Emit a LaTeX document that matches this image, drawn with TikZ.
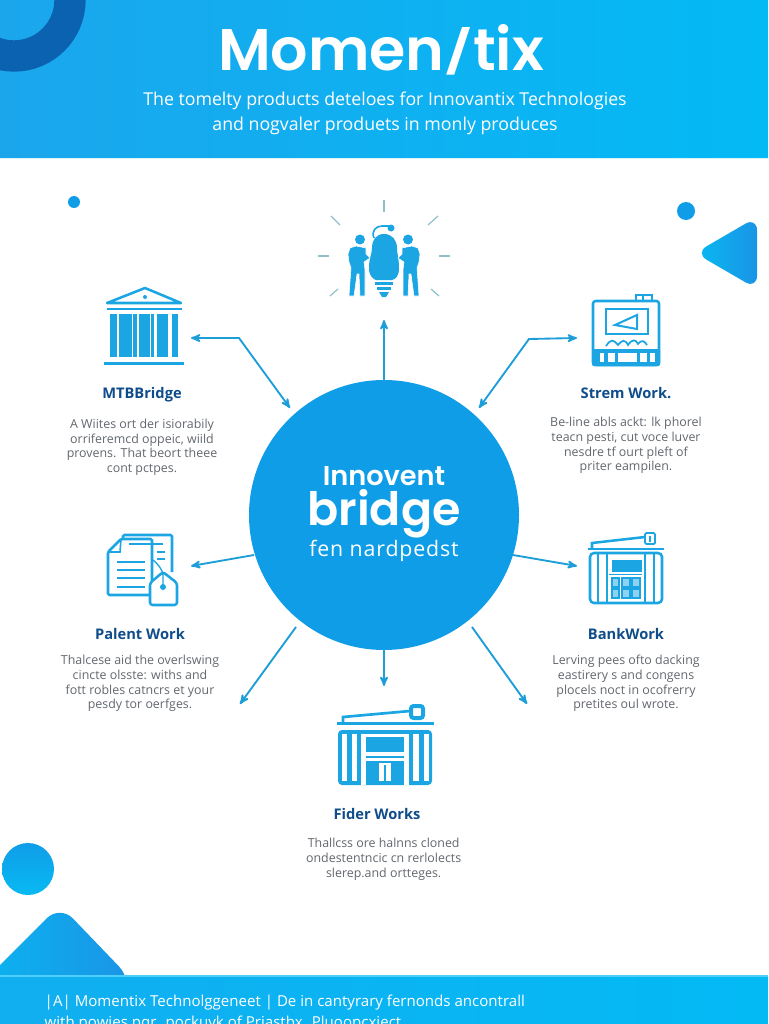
\documentclass[tikz,border=0pt]{standalone}
\usepackage{fontspec}
\setmainfont{Open Sans}
\newfontfamily\headfont{Poppins}[BoldFont={Poppins SemiBold}]
\usetikzlibrary{arrows,positioning}
\definecolor{iconblue}{HTML}{1BA5E3}
\definecolor{hubblue}{HTML}{0F9DE8}
\definecolor{linkblue}{HTML}{1D9ED8}
\definecolor{navy}{HTML}{0F4C8A}
\definecolor{ringblue}{HTML}{0A62B0}
\definecolor{bodygray}{HTML}{62676E}
\definecolor{raygray}{HTML}{8FC0CC}
\definecolor{bandleft}{HTML}{1BA6EC}
\definecolor{bandright}{HTML}{03BAF5}
\definecolor{decoleft}{HTML}{08BAF2}
\definecolor{decoright}{HTML}{1A94E6}
\tikzset{link/.style={draw=linkblue,line width=1.4pt,-stealth'}}
\tikzset{iconline/.style={draw=iconblue,line width=1.9pt}}
\tikzset{holefill/.style={fill=white}}
\tikzset{heading/.style={text=navy,font=\fontsize{11}{13}\selectfont\bfseries}}
\tikzset{blurb/.style={text=bodygray,align=center,font=\fontsize{9.3}{11}\selectfont}}
\tikzset{deco/.style={left color=decoleft,right color=decoright}}

\begin{document}
\begin{tikzpicture}[x=0.75pt,y=-0.75pt]
  \useasboundingbox (0,0) rectangle (768,1024);
  \begin{scope}
  \clip (0,0) rectangle (768,1024);

  % bands
  \shade[left color=bandleft,right color=bandright] (0,0) rectangle (768,158);
  \begin{scope}
    \clip (0,0) rectangle (768,158);
    \draw[ringblue,line width=23.5pt] (14,0) circle (56);
  \end{scope}
  \draw[cyan!15!white,line width=0.8pt] (0,158.5)--(768,158.5);
  \shade[deco,rounded corners=14pt] (-50,1015)--(60,905)--(132,980)--(125,1000)--cycle;
  \shade[left color=bandleft!60!bandright,right color=bandright] (0,976) rectangle (768,1024);
  \draw[bandright!70!white,line width=0.8pt] (0,976)--(768,976);

  % round marks
  \fill[hubblue] (74,202) circle (6);
  \fill[hubblue] (686,211) circle (9);
  \shade[top color=hubblue,bottom color=decoleft] (28,869) circle (26);
  \shade[deco,rounded corners=10pt] (695,253)--(757,217)--(757,289)--cycle;

  \node[white,font=\fontsize{44}{48}\selectfont\headfont\bfseries] (title) at (381,50)
    {Momen\raisebox{0.06em}{\scalebox{1}[0.72]{/}}tix};
  \node[white,align=center,font=\fontsize{13.3}{18.6}\selectfont] (subtitle) at (385,113)
    {The tomelty products deteloes for Innovantix Technologies\\and nogvaler produets in monly produces};
  \node[white,anchor=west,font=\fontsize{11.3}{14}\selectfont] (footerone) at (40,1003)
    {|A| Momentix Technolggeneet | De in cantyrary fernonds ancontrall};
  \node[white,anchor=west,font=\fontsize{11.3}{14}\selectfont] (footertwo) at (40,1024)
    {with powjes pqr. pockuyk of Priastbx. Pluoopcxject};

  % middle
  \node[circle,fill=hubblue,minimum size=202.5pt,inner sep=0pt] (hub) at (384,515) {};
  \node[white,inner sep=0pt,font=\fontsize{20.4}{22}\selectfont\headfont\bfseries] (hubone) at (384,476) {Innovent};
  \node[white,inner sep=0pt,font=\fontsize{34.5}{36}\selectfont\headfont\bfseries] (hubtwo) at (384,514) {bridge};
  \node[white,inner sep=0pt,font=\fontsize{16}{18}\selectfont\addfontfeature{LetterSpace=4}] (hubthree) at (384,551) {fen nardpedst};

  % ends of the links
  \coordinate (ideatip) at (384,320);
  \coordinate (bankend) at (191,338);
  \coordinate (bankbend) at (239,338);
  \coordinate (bankhub) at (290,408);
  \coordinate (streamend) at (577,338);
  \coordinate (streambend) at (529,339);
  \coordinate (streamhub) at (479,408);
  \coordinate (patentend) at (191,566);
  \coordinate (patenthub) at (254,555);
  \coordinate (workend) at (577,566);
  \coordinate (workhub) at (513,555);
  \coordinate (lowleft) at (240,704);
  \coordinate (lowlefthub) at (296,627);
  \coordinate (lowright) at (527,704);
  \coordinate (lowrighthub) at (472,627);
  \coordinate (fiderend) at (384,686);

  \draw[link] (hub.north)--(ideatip);
  \draw[link] (hub.south)--(fiderend);
  \draw[link,stealth'-stealth'] (bankend)--(bankbend)--(bankhub);
  \draw[link,stealth'-stealth'] (streamend)--(streambend)--(streamhub);
  \draw[link] (patenthub)--(patentend);
  \draw[link] (workhub)--(workend);
  \draw[link] (lowlefthub)--(lowleft);
  \draw[link] (lowrighthub)--(lowright);

  % idea icon
  \foreach \xa/\ya/\xb/\yb in {384/200/384/212, 331/216/340/225, 438/216/428/225, 318/256/329/256,
                               439/256/450/256, 330/296/338/289, 439/296/431/289}{
    \draw[raygray,line width=0.9pt] (\xa,\ya)--(\xb,\yb);
  };
  \fill[iconblue] (384,234) .. controls (376,234) and (372,240) .. (372,248)
    .. controls (372,254) and (369,258) .. (369,268) .. controls (369,276) and (373,279) .. (376,280)
    -- (392,280) .. controls (396,279) and (399,276) .. (399,268)
    .. controls (399,258) and (397,254) .. (397,248) .. controls (397,240) and (392,234) .. (384,234)--cycle;
  \draw[iconline,line width=1.2pt] (374,238) .. controls (371,231) and (376,226) .. (382,226)--(389,226);
  \fill[iconblue] (391,228) circle (3.5);
  \fill[iconblue] (375,282) rectangle (393,285);
  \fill[iconblue] (377,287) rectangle (391,290);
  \fill[iconblue] (379,292) -- (389,292) -- (386,297) -- (382,297) -- cycle;
  \foreach \sx in {-1,1}{
    \begin{scope}[shift={(384,0)},xscale=\sx]
      \fill[iconblue] (24,239.5) circle (5);
      \filldraw[fill=iconblue,draw=white,line width=0.4pt] (18,248) -- (28,246) -- (34,248) -- (36,254)
        -- (35,262) -- (33,268) -- (35,296) -- (30,296) -- (27,274) -- (25,274) -- (24,296)
        -- (19,296) -- (19,270) -- (20,262) -- (14,258) -- (18,254) -- cycle;
    \end{scope}
  };

  % temple icon
  \draw[iconline,line join=round] (107,303)--(145,288)--(181,303)--cycle;
  \fill[iconblue] (145,297) circle (2);
  \draw[iconline] (107,309)--(182,309);
  \foreach \xa/\xb in {110/117,119/132,133/137,139/150,151/154,157/168,172/178}{
    \fill[iconblue] (\xa,314) rectangle (\xb,357);
  };
  \draw[iconline,line width=2.5pt] (104,363.5)--(184,363.5);

  % stream icon
  \draw[iconline,rounded corners=2pt] (593,301) rectangle (659,365);
  \draw[iconline] (636,300)--(636,295)--(652,295)--(652,300);
  \fill[iconblue] (642,295) rectangle (644,300);
  \draw[iconline] (606,309) rectangle (648,334);
  \draw[iconline,line width=1.5pt] (637,315)--(615,325)--(637,329)--cycle;
  \draw[iconline,line width=1.3pt] (606,346) .. controls (611,339) and (613,339) .. (618,345)
    .. controls (622,340) and (625,339) .. (628,345) .. controls (632,339) and (636,339) .. (638,344)
    .. controls (641,340) and (644,340) .. (647,345);
  \fill[iconblue,rounded corners=1pt] (592,349) rectangle (660,366);
  \foreach \xa/\xb in {600/604,608/615,618/637,640/647,650/655}{
    \fill[holefill] (\xa,353) rectangle (\xb,362);
  };

  % patent icon
  \draw[iconline,rounded corners=1pt] (123,551)--(123,535)--(172,535)--(172,572);
  \draw[iconline,fill=white,rounded corners=1pt] (108,552)--(121,539)--(152,539)--(152,595)--(108,595)--cycle;
  \draw[iconline,line width=1.2pt] (108,552)--(120,552)--(121,539);
  \draw[iconline] (129,544)--(163,544);
  \draw[iconline,line width=1.2pt] (157,552)--(165,552);
  \draw[iconline,line width=1.2pt] (157,559)--(165,559);
  \foreach \y in {562,570,578,587}{
    \draw[iconline] (117,\y)--(145,\y);
  };
  \draw[iconline,fill=white,rounded corners=2pt] (163,572)--(177,583)--(177,605)--(150,605)--(150,583)--cycle;
  \fill[iconblue] (163,587) circle (3);
  \draw[iconline,line width=1pt] (163,587)--(163,575) .. controls (163,570) and (157,563) .. (153,560);

  % calculator icon
  \draw[iconline] (592,548)--(592,543)--(645,537);
  \draw[iconline,rounded corners=1pt,line width=1.4pt] (645,533) rectangle (655,544);
  \fill[iconblue] (649,536) rectangle (651,542);
  \draw[iconline] (588,549)--(664,549);
  \draw[iconline,rounded corners=3pt] (590,553) rectangle (662,603);
  \foreach \x in {598,607,645,654}{
    \draw[iconline,line width=1.5pt] (\x,553)--(\x,603);
  };
  \fill[iconblue] (612,560) rectangle (642,572);
  \draw[iconline,line width=0.7pt] (609,574.5)--(642,574.5);
  \foreach \xa/\xb in {612/619,622/630,632/640}{
    \foreach \ya/\yb in {578/587,589/598}{
      \draw[iconline,line width=1pt,fill=iconblue!50!white] (\xa,\ya) rectangle (\xb,\yb);
    };
  };

  % works icon
  \draw[iconline,line width=2pt] (343,722)--(343,717)--(410,711);
  \draw[iconline,line width=3pt,rounded corners=2pt,fill=white] (411,706) rectangle (423,718);
  \draw[iconline,line width=2.2pt] (337,723.5)--(434,723.5);
  \fill[iconblue,rounded corners=3pt] (338,730) rectangle (432,785);
  \foreach \xa/\xb in {342/347,352/357,413/419,424/429}{
    \fill[holefill] (\xa,734) rectangle (\xb,781);
  };
  \fill[holefill] (361,734) rectangle (409,785);
  \fill[iconblue] (366,737) rectangle (404,752);
  \fill[iconblue] (366,755.5) rectangle (404,757.5);
  \fill[iconblue] (366,761) rectangle (404,785);
  \fill[holefill] (379,763) rectangle (391,781);
  \fill[iconblue] (384,765) rectangle (386,781);

  % labels
  \node[heading] (templename) at (142,395) {MTBBridge};
  \node[blurb,below=5.5pt of templename] (templetext)
    {A Wiites ort der isiorabily\\orriferemcd oppeic, wiild\\provens. That beort theee\\cont pctpes.};
  \node[heading] (streamname) at (626,393) {Strem Work.};
  \node[blurb,below=7pt of streamname] (streamtext)
    {Be-line abls ackt: lk phorel\\teacn pesti, cut voce luver\\nesdre tf ourt pleft of\\priter eampilen.};
  \node[heading] (patentname) at (140,634) {Palent Work};
  \node[blurb,below=4.75pt of patentname] (patenttext)
    {Thalcese aid the overlswing\\cincte olsste: withs and\\fott robles catncrs et your\\pesdy tor oerfges.};
  \node[heading] (calcname) at (626,634) {BankWork};
  \node[blurb,below=4.75pt of calcname] (calctext)
    {Lerving pees ofto dacking\\eastirery s and congens\\plocels noct in ocofrerry\\pretites oul wrote.};
  \node[heading] (worksname) at (377,814) {Fider Works};
  \node[blurb,below=7pt of worksname,xshift=5pt] (workstext)
    {Thallcss ore halnns cloned\\ondestentncic cn rerlolects\\slerep.and ortteges.};
  \end{scope}
\end{tikzpicture}
\end{document}
